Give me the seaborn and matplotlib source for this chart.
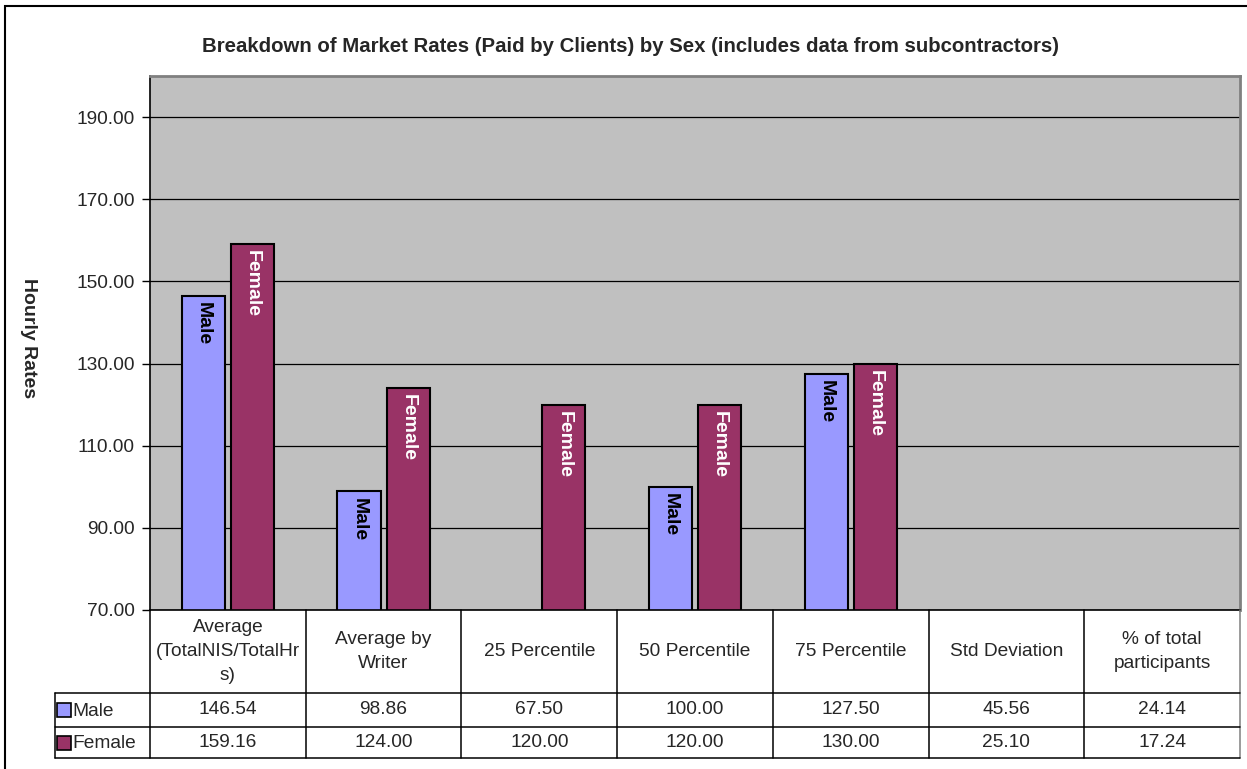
import numpy as np
import pandas as pd
import matplotlib.pyplot as plt
import matplotlib.ticker as mtick
from matplotlib.patches import Rectangle
import seaborn as sns

# --- data -------------------------------------------------------------
categories = [
    "Average\n(TotalNIS/TotalHr\ns)",
    "Average by\nWriter",
    "25 Percentile",
    "50 Percentile",
    "75 Percentile",
    "Std Deviation",
    "% of total\nparticipants",
]
sexes = ["Male", "Female"]
male_rates = [146.54, 98.86, 67.50, 100.00, 127.50, 45.56, 24.14]
female_rates = [159.16, 124.00, 120.00, 120.00, 130.00, 25.10, 17.24]
y_ticks = [70, 90, 110, 130, 150, 170, 190]

colors = {"Male": "#9999FF", "Female": "#993366"}
label_colors = {"Male": "black", "Female": "white"}

df = pd.DataFrame({
    "Metric": categories * 2,
    "Sex": ["Male"] * len(categories) + ["Female"] * len(categories),
    "Rate": male_rates + female_rates,
})

# --- style ------------------------------------------------------------
sns.set_style("white")
plt.rcParams["font.family"] = ["Liberation Sans", "DejaVu Sans"]
FS = 13.8

W, H = 1247, 769
fig = plt.figure(figsize=(W / 100, H / 100), dpi=100)

# plot area in pixels
px_l, px_r, px_t, px_b = 150, 1240, 76, 610
ax = fig.add_axes([px_l / W, 1 - px_b / H, (px_r - px_l) / W, (px_b - px_t) / H])

sns.barplot(
    data=df, x="Metric", y="Rate", hue="Sex", hue_order=sexes,
    palette=colors, width=0.63, gap=0.12, edgecolor="black",
    linewidth=1.5, saturation=1, legend=False, ax=ax,
)

ax.set_facecolor("#C0C0C0")
ax.set_xlim(-0.5, len(categories) - 0.5)
ax.set_ylim(70, 200)
ax.set_yticks(y_ticks)
ax.yaxis.set_major_formatter(mtick.FormatStrFormatter("%.2f"))
ax.tick_params(axis="y", which="both", left=True, length=6, width=1,
               direction="out", labelsize=FS, pad=5, color="black")
ax.tick_params(axis="x", bottom=False, labelbottom=False)
ax.set_xlabel("")
ax.set_ylabel("")
ax.yaxis.grid(True, color="black", linewidth=0.9)
ax.set_axisbelow(True)
for side in ["left", "bottom"]:
    ax.spines[side].set_color("black")
    ax.spines[side].set_linewidth(1.2)
for side in ["top", "right"]:
    ax.spines[side].set_color("#808080")
    ax.spines[side].set_linewidth(2)

# bar labels (only for bars visible above the axis floor)
ymin = ax.get_ylim()[0]
for sex, container in zip(sexes, ax.containers):
    for bar in container:
        h = bar.get_height()
        if h <= ymin:
            continue
        ax.annotate(sex, (bar.get_x() + bar.get_width() / 2, h),
                    xytext=(0, -4.5), textcoords="offset points",
                    rotation=-90, ha="center", va="top",
                    fontsize=14, fontweight="bold", color=label_colors[sex])

# --- data table under the plot ---------------------------------------
tbl_bottom = 758
tax = fig.add_axes([px_l / W, 1 - tbl_bottom / H, (px_r - px_l) / W, (tbl_bottom - px_b) / H])
tax.set_xlim(-0.5, len(categories) - 0.5)
tax.set_ylim(tbl_bottom - px_b, 0)
tax.axis("off")

colw = (px_r - px_l) / len(categories)
hdr_h, row_h = 83, 34
tbl_h = tbl_bottom - px_b
leg_left = -0.5 - 95 / colw
line_kw = dict(color="black", linewidth=1.1, clip_on=False)

for k in range(len(categories) + 1):
    x = -0.5 + k
    c = "#808080" if k == len(categories) else "black"
    tax.plot([x, x], [0, tbl_h], **{**line_kw, "color": c})
tax.plot([leg_left, leg_left], [hdr_h, tbl_h], **line_kw)
for y in [hdr_h, hdr_h + row_h, tbl_h]:
    tax.plot([leg_left, len(categories) - 0.5], [y, y], **line_kw)

row_centers = [hdr_h + row_h / 2, (hdr_h + row_h + tbl_h) / 2]
for i, cat in enumerate(categories):
    tax.text(i, hdr_h / 2, cat, ha="center", va="center",
             fontsize=FS, linespacing=1.5)
    for yc, vals in zip(row_centers, [male_rates, female_rates]):
        tax.text(i, yc, f"{vals[i]:.2f}", ha="center", va="center", fontsize=FS)

for yc, sex in zip(row_centers, sexes):
    tax.plot(leg_left + 9 / colw, yc, marker="s", markersize=9.5,
             markerfacecolor=colors[sex], markeredgecolor="black",
             markeredgewidth=1.2, clip_on=False)
    tax.text(leg_left + 17 / colw, yc + 1, sex, ha="left", va="center",
             fontsize=FS, clip_on=False)

# --- titles & frame ---------------------------------------------------
fig.text(631 / W, 1 - 46 / H,
         "Breakdown of Market Rates (Paid by Clients) by Sex (includes data from subcontractors)",
         ha="center", va="center", fontsize=14.7, fontweight="bold")
fig.text(28 / W, 1 - 338 / H, "Hourly Rates", rotation=-90,
         ha="center", va="center", fontsize=14, fontweight="bold")

fig.patches.append(Rectangle((5 / W, -0.05), 1.2, 1 - 6 / H + 0.05,
                             transform=fig.transFigure, fill=False,
                             edgecolor="black", linewidth=1.5))

fig.savefig("out.png", dpi=100)
plt.close(fig)
